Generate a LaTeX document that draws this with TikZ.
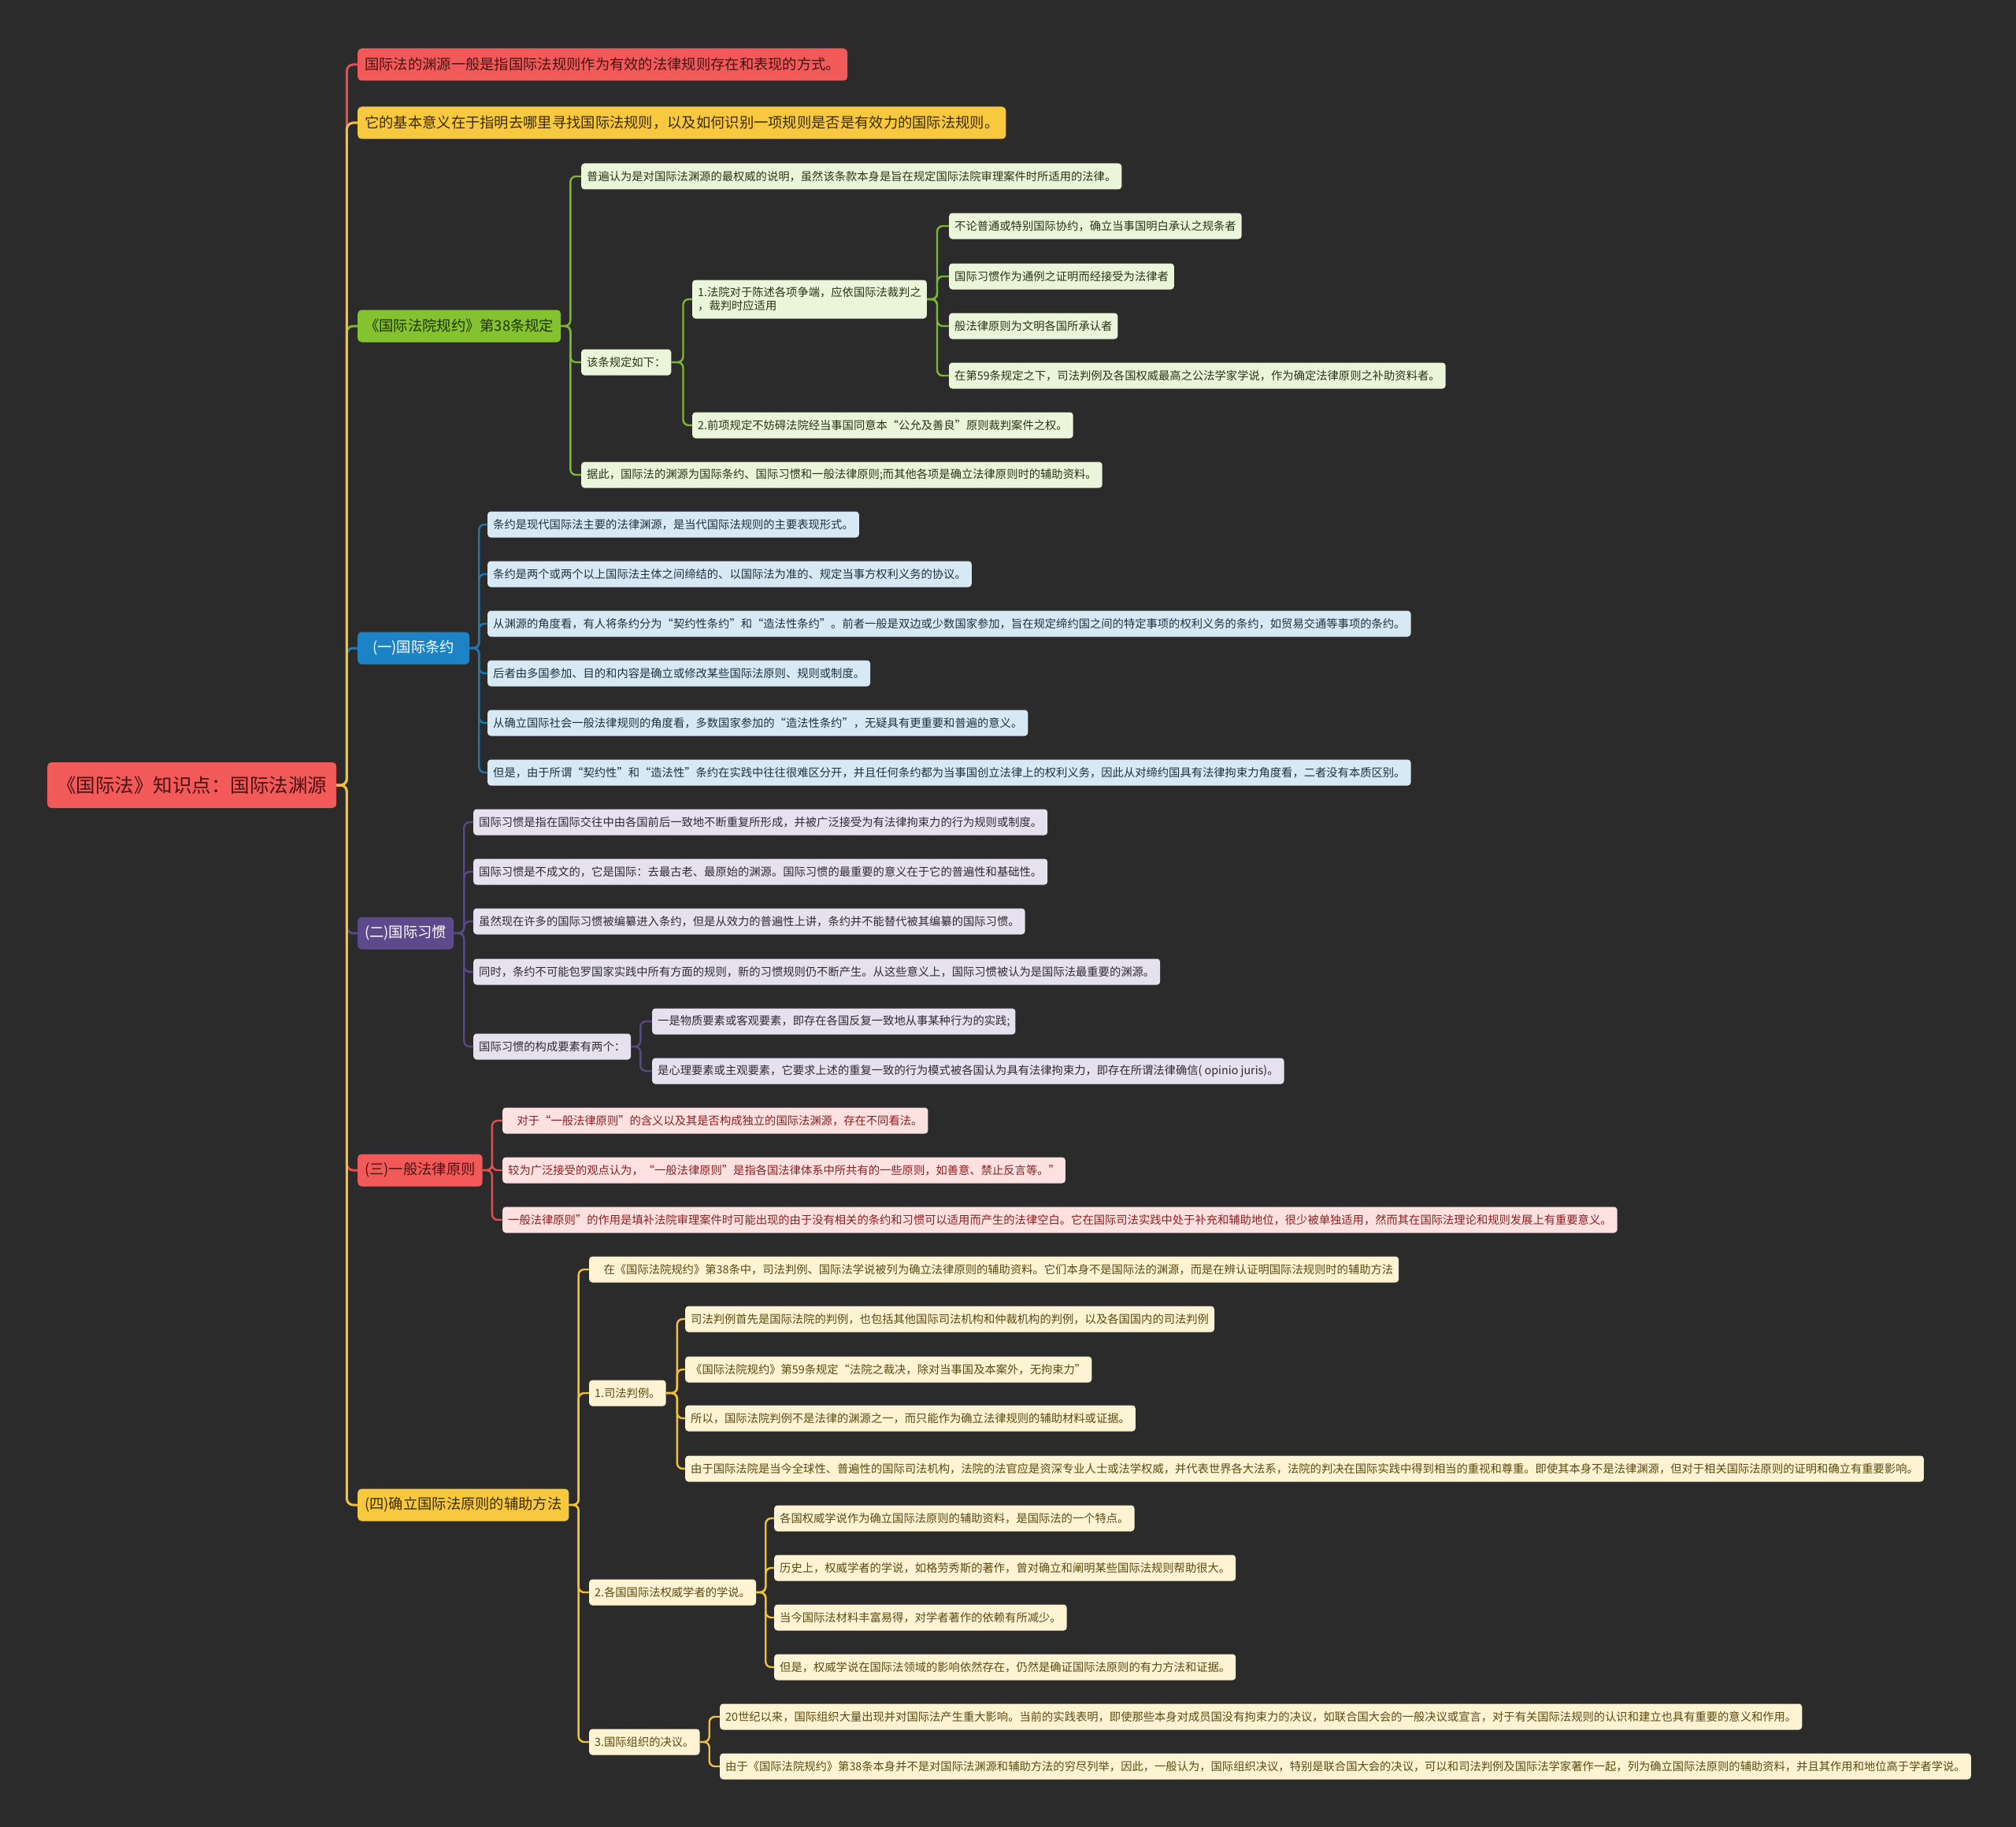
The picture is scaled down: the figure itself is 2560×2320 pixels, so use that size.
\documentclass[tikz,border=0pt]{standalone}
\usepackage{fontspec}
\usepackage{tikz}
\newfontfamily\cjk{Noto Sans CJK SC}

\definecolor{bg}{HTML}{2B2B2B}
\definecolor{redfill}{HTML}{F25A5A}
\definecolor{redtext}{HTML}{4A1212}
\definecolor{redline}{HTML}{E0504F}
\definecolor{redlight}{HTML}{FDE1E1}
\definecolor{redsub}{HTML}{8C1F1F}
\definecolor{yelfill}{HTML}{F8C93E}
\definecolor{yeltext}{HTML}{3B2C05}
\definecolor{yelline}{HTML}{F2C03A}
\definecolor{yellight}{HTML}{FEF3D3}
\definecolor{yelsub}{HTML}{5B4A12}
\definecolor{grnfill}{HTML}{84C22F}
\definecolor{grntext}{HTML}{1F3300}
\definecolor{grnline}{HTML}{7CB82F}
\definecolor{grnlight}{HTML}{EBF5DA}
\definecolor{grnsub}{HTML}{2A3318}
\definecolor{blufill}{HTML}{1C84C6}
\definecolor{bluline}{HTML}{1F78B4}
\definecolor{blulight}{HTML}{D8E9F6}
\definecolor{blusub}{HTML}{22303D}
\definecolor{purfill}{HTML}{5C4A8C}
\definecolor{purline}{HTML}{5A4786}
\definecolor{purlight}{HTML}{E6E1EF}
\definecolor{pursub}{HTML}{2E2A38}

\tikzset{
  rootbox/.style={rounded corners=5pt, anchor=west, fill=redfill, text=redtext,
    font=\cjk\fontsize{24.5}{28}\selectfont, inner xsep=12pt, inner ysep=0pt, minimum height=58pt},
  mainbox/.style={rounded corners=5pt, anchor=west,
    font=\cjk\fontsize{18.3}{22}\selectfont, inner xsep=9pt, inner ysep=0pt, minimum height=41pt},
  subbox/.style={rounded corners=4pt, anchor=west,
    font=\cjk\fontsize{14.3}{17}\selectfont, inner xsep=7pt, inner ysep=0pt, minimum height=33pt},
  link/.style={line width=3pt, rounded corners=8pt},
  sublink/.style={line width=2.4pt, rounded corners=7pt},
}

\begin{document}
\begin{tikzpicture}[x=1pt, y=-1pt]
    \useasboundingbox[fill=bg] (0,0) rectangle (2560,2320);

    % Root
    \node[rootbox] (root) at (60,997) {《国际法》知识点：国际法渊源};

    % First level
    \node[mainbox, fill=redfill, text=redtext] (def) at (454,82) {国际法的渊源一般是指国际法规则作为有效的法律规则存在和表现的方式。};
    \node[mainbox, fill=yelfill, text=yeltext] (mean) at (454,156) {它的基本意义在于指明去哪里寻找国际法规则，以及如何识别一项规则是否是有效力的国际法规则。};
    \node[mainbox, fill=grnfill, text=grntext] (art) at (454,414) {《国际法院规约》第38条规定};
    \node[mainbox, fill=blufill, text=white, inner xsep=19pt] (treaty) at (454,823) {(一)国际条约};
    \node[mainbox, fill=purfill, text=white] (custom) at (454,1185) {(二)国际习惯};
    \node[mainbox, fill=redfill, text=redtext] (princ) at (454,1486) {(三)一般法律原则};
    \node[mainbox, fill=yelfill, text=yeltext] (aux) at (454,1911) {(四)确立国际法原则的辅助方法};

    \draw[link, redline] (root.east) -- ++(13,0) |- (def.west);
    \draw[link, grnline] (root.east) -- ++(13,0) |- (art.west);
    \draw[link, bluline] (root.east) -- ++(13,0) |- (treaty.west);
    \draw[link, purline] (root.east) -- ++(13,0) |- (custom.west);
    \draw[link, redline] (root.east) -- ++(13,0) |- (princ.west);
    \draw[link, yelline] (root.east) -- ++(13,0) |- (mean.west);
    \draw[link, yelline] (root.east) -- ++(13,0) |- (aux.west);

    % Article 38
    \begin{scope}[every node/.style={subbox, fill=grnlight, text=grnsub}]
    \node (g1) at (738,224) {普遍认为是对国际法渊源的最权威的说明，虽然该条款本身是旨在规定国际法院审理案件时所适用的法律。};
    \node (g2) at (738,460) {该条规定如下：};
    \node (g3) at (738,603) {据此，国际法的渊源为国际条约、国际习惯和一般法律原则;而其他各项是确立法律原则时的辅助资料。};
    \node[align=left, minimum height=49pt] (g21) at (879,380) {1.法院对于陈述各项争端，应依国际法裁判之\\，裁判时应适用};
    \node (g22) at (879,540) {2.前项规定不妨碍法院经当事国同意本“公允及善良”原则裁判案件之权。};
    \node (g211) at (1205,287) {不论普通或特别国际协约，确立当事国明白承认之规条者};
    \node (g212) at (1205,351) {国际习惯作为通例之证明而经接受为法律者};
    \node (g213) at (1205,414) {般法律原则为文明各国所承认者};
    \node (g214) at (1205,477) {在第59条规定之下，司法判例及各国权威最高之公法学家学说，作为确定法律原则之补助资料者。};
    \end{scope}
    \foreach \c in {g1,g2,g3}
        \draw[sublink, grnline] (art.east) -- ++(12,0) |- (\c.west);
    \foreach \c in {g21,g22}
        \draw[sublink, grnline] (g2.east) -- ++(15,0) |- (\c.west);
    \foreach \c in {g211,g212,g213,g214}
        \draw[sublink, grnline] (g21.east) -- ++(13,0) |- (\c.west);

    % Treaties
    \begin{scope}[every node/.style={subbox, fill=blulight, text=blusub}]
    \node (b1) at (619,666) {条约是现代国际法主要的法律渊源，是当代国际法规则的主要表现形式。};
    \node (b2) at (619,729) {条约是两个或两个以上国际法主体之间缔结的、以国际法为准的、规定当事方权利义务的协议。};
    \node (b3) at (619,792) {从渊源的角度看，有人将条约分为“契约性条约”和“造法性条约”。前者一般是双边或少数国家参加，旨在规定缔约国之间的特定事项的权利义务的条约，如贸易交通等事项的条约。};
    \node (b4) at (619,855) {后者由多国参加、目的和内容是确立或修改某些国际法原则、规则或制度。};
    \node (b5) at (619,918) {从确立国际社会一般法律规则的角度看，多数国家参加的“造法性条约”，无疑具有更重要和普遍的意义。};
    \node (b6) at (619,981) {但是，由于所谓“契约性”和“造法性”条约在实践中往往很难区分开，并且任何条约都为当事国创立法律上的权利义务，因此从对缔约国具有法律拘束力角度看，二者没有本质区别。};
    \end{scope}
    \foreach \c in {b1,b2,b3,b4,b5,b6}
        \draw[sublink, bluline] (treaty.east) -- ++(12,0) |- (\c.west);

    % Custom
    \begin{scope}[every node/.style={subbox, fill=purlight, text=pursub}]
    \node (p1) at (601,1044) {国际习惯是指在国际交往中由各国前后一致地不断重复所形成，并被广泛接受为有法律拘束力的行为规则或制度。};
    \node (p2) at (601,1107) {国际习惯是不成文的，它是国际：去最古老、最原始的渊源。国际习惯的最重要的意义在于它的普遍性和基础性。};
    \node (p3) at (601,1170) {虽然现在许多的国际习惯被编纂进入条约，但是从效力的普遍性上讲，条约并不能替代被其编纂的国际习惯。};
    \node (p4) at (601,1234) {同时，条约不可能包罗国家实践中所有方面的规则，新的习惯规则仍不断产生。从这些意义上，国际习惯被认为是国际法最重要的渊源。};
    \node (p5) at (601,1329) {国际习惯的构成要素有两个：};
    \node (p51) at (828,1297) {一是物质要素或客观要素，即存在各国反复一致地从事某种行为的实践;};
    \node (p52) at (828,1360) {是心理要素或主观要素，它要求上述的重复一致的行为模式被各国认为具有法律拘束力，即存在所谓法律确信( opinio juris)。};
    \end{scope}
    \foreach \c in {p1,p2,p3,p4,p5}
        \draw[sublink, purline] (custom.east) -- ++(13,0) |- (\c.west);
    \foreach \c in {p51,p52}
        \draw[sublink, purline] (p5.east) -- ++(12,0) |- (\c.west);

    % General principles
    \begin{scope}[every node/.style={subbox, fill=redlight, text=redsub}]
    \node (r1) at (638,1423) {\hspace*{0.8em}对于“一般法律原则”的含义以及其是否构成独立的国际法渊源，存在不同看法。};
    \node (r2) at (638,1486) {较为广泛接受的观点认为，“一般法律原则”是指各国法律体系中所共有的一些原则，如善意、禁止反言等。”};
    \node (r3) at (638,1549) {一般法律原则”的作用是填补法院审理案件时可能出现的由于没有相关的条约和习惯可以适用而产生的法律空白。它在国际司法实践中处于补充和辅助地位，很少被单独适用，然而其在国际法理论和规则发展上有重要意义。};
    \end{scope}
    \foreach \c in {r1,r2,r3}
        \draw[sublink, redline] (princ.east) -- ++(12,0) |- (\c.west);

    % Auxiliary means
    \begin{scope}[every node/.style={subbox, fill=yellight, text=yelsub}]
    \node (y1) at (748,1612) {\hspace*{0.8em}在《国际法院规约》第38条中，司法判例、国际法学说被列为确立法律原则的辅助资料。它们本身不是国际法的渊源，而是在辨认证明国际法规则时的辅助方法};
    \node (y2) at (748,1769) {1.司法判例。};
    \node (y21) at (870,1675) {司法判例首先是国际法院的判例，也包括其他国际司法机构和仲裁机构的判例，以及各国国内的司法判例};
    \node (y22) at (870,1739) {《国际法院规约》第59条规定“法院之裁决，除对当事国及本案外，无拘束力”};
    \node (y23) at (870,1801) {所以，国际法院判例不是法律的渊源之一，而只能作为确立法律规则的辅助材料或证据。};
    \node (y24) at (870,1865) {由于国际法院是当今全球性、普遍性的国际司法机构，法院的法官应是资深专业人士或法学权威，并代表世界各大法系，法院的判决在国际实践中得到相当的重视和尊重。即使其本身不是法律渊源，但对于相关国际法原则的证明和确立有重要影响。};
    \node (y3) at (748,2022) {2.各国国际法权威学者的学说。};
    \node (y31) at (983,1928) {各国权威学说作为确立国际法原则的辅助资料，是国际法的一个特点。};
    \node (y32) at (983,1991) {历史上，权威学者的学说，如格劳秀斯的著作，曾对确立和阐明某些国际法规则帮助很大。};
    \node (y33) at (983,2054) {当今国际法材料丰富易得，对学者著作的依赖有所减少。};
    \node (y34) at (983,2117) {但是，权威学说在国际法领域的影响依然存在，仍然是确证国际法原则的有力方法和证据。};
    \node (y4) at (748,2212) {3.国际组织的决议。};
    \node (y41) at (914,2180) {20世纪以来，国际组织大量出现并对国际法产生重大影响。当前的实践表明，即使那些本身对成员国没有拘束力的决议，如联合国大会的一般决议或宣言，对于有关国际法规则的认识和建立也具有重要的意义和作用。};
    \node (y42) at (914,2243) {由于《国际法院规约》第38条本身并不是对国际法渊源和辅助方法的穷尽列举，因此，一般认为，国际组织决议，特别是联合国大会的决议，可以和司法判例及国际法学家著作一起，列为确立国际法原则的辅助资料，并且其作用和地位高于学者学说。};
    \end{scope}
    \foreach \c in {y1,y2,y3,y4}
        \draw[sublink, yelline] (aux.east) -- ++(12,0) |- (\c.west);
    \foreach \c in {y21,y22,y23,y24}
        \draw[sublink, yelline] (y2.east) -- ++(14,0) |- (\c.west);
    \foreach \c in {y31,y32,y33,y34}
        \draw[sublink, yelline] (y3.east) -- ++(12,0) |- (\c.west);
    \foreach \c in {y41,y42}
        \draw[sublink, yelline] (y4.east) -- ++(12,0) |- (\c.west);
\end{tikzpicture}
\end{document}
